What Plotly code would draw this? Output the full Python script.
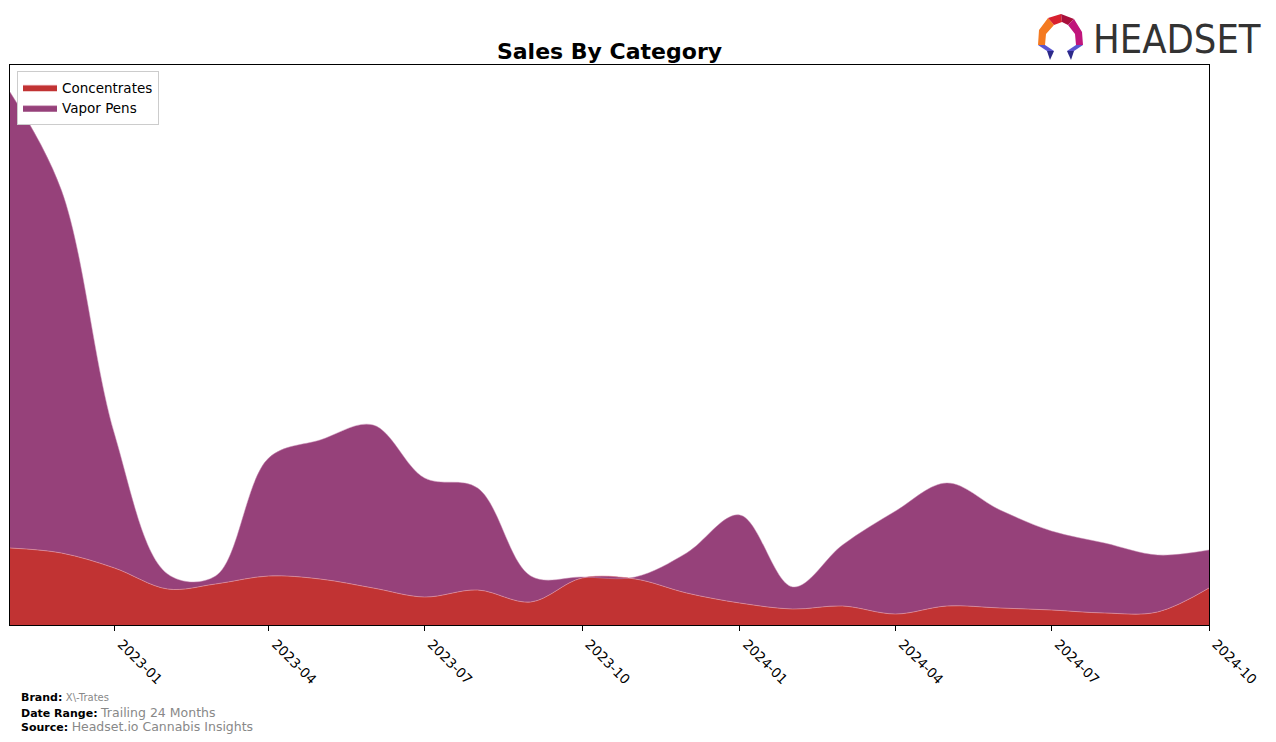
import base64
import plotly.graph_objects as go

# ---- data ----
months = ["2022-11-01", "2022-12-01", "2023-01-01", "2023-02-01", "2023-03-01", "2023-04-01",
          "2023-05-01", "2023-06-01", "2023-07-01", "2023-08-01", "2023-09-01", "2023-10-01",
          "2023-11-01", "2023-12-01", "2024-01-01", "2024-02-01", "2024-03-01", "2024-04-01",
          "2024-05-01", "2024-06-01", "2024-07-01", "2024-08-01", "2024-09-01", "2024-10-01"]
concentrates = [77, 72, 57, 36, 41, 49, 46, 37, 28, 35, 23, 47,
                46, 32, 22, 16, 19, 11, 19, 17, 15, 12, 13, 37]
vapor_pens = [456, 363, 134, 15, 8, 118, 139, 163, 119, 102, 26, 1,
              2, 40, 88, 22, 61, 103, 123, 98, 79, 70, 57, 38]
tick_vals = ["2023-01-01", "2023-04-01", "2023-07-01", "2023-10-01",
             "2024-01-01", "2024-04-01", "2024-07-01", "2024-10-01"]
tick_text = ["2023-01", "2023-04", "2023-07", "2023-10",
             "2024-01", "2024-04", "2024-07", "2024-10"]

OFF = 8  # page body margin
W, H = 1276 - OFF, 742 - OFF
L, R, T, B = 10 - OFF, 1209 - OFF, 65 - OFF, 625 - OFF

def px_x(p):
    return (p - OFF - L) / (R - L)

def px_y(p):
    return (B - (p - OFF)) / (B - T)

fig = go.Figure()
fig.add_trace(go.Scatter(x=months, y=concentrates, name="Concentrates", stackgroup="one",
                         mode="lines", line=dict(shape="spline", width=0.8, color="rgba(230,150,160,0.8)"),
                         fillcolor="#c13333"))
fig.add_trace(go.Scatter(x=months, y=vapor_pens, name="Vapor Pens", stackgroup="one",
                         mode="lines", line=dict(shape="spline", width=0.8, color="rgba(200,140,180,0.6)"),
                         fillcolor="#96417a"))

# logo icon as svg image (graphic only)
svg = """<svg xmlns='http://www.w3.org/2000/svg' width='50' height='48' viewBox='0 0 50 48'>
<polygon points='12,4 18,11 10,20 9,31 2,31 3,16' fill='#f47a20'/>
<polygon points='12,4 25,0 26,8 18,11' fill='#d8202f'/>
<polygon points='25,0 38,5 32,11 26,8' fill='#a8103c'/>
<polygon points='38,5 46,18 47,31 40,31 39,20 32,11' fill='#c0157c'/>
<polygon points='2,31 9,31 18,37 11,37' fill='#5a55d0'/>
<polygon points='11,37 18,37 14,46' fill='#2c2a8a'/>
<polygon points='47,31 40,31 31,37 38,37' fill='#5a55d0'/>
<polygon points='38,37 31,37 35,46' fill='#2c2a8a'/>
</svg>"""
src = "data:image/svg+xml;base64," + base64.b64encode(svg.encode()).decode()

fig.add_layout_image(dict(source=src, xref="paper", yref="paper",
                          x=px_x(1036), y=px_y(14), sizex=px_x(1086) - px_x(1036),
                          sizey=px_y(14) - px_y(62), xanchor="left", yanchor="top",
                          sizing="stretch", layer="above"))

anns = [
    dict(text="HEADSET", x=px_x(1091), y=px_y(39), xanchor="left", yanchor="middle",
         font=dict(family="DejaVu Sans Condensed, Liberation Sans Narrow, sans-serif", size=39.5, color="#333333")),
    dict(text="<b>Brand:</b> <span style='font-size:10px;color:#888888'>X\\-Trates</span>",
         x=px_x(19), y=px_y(697), xanchor="left", yanchor="middle",
         font=dict(family="DejaVu Sans", size=11, color="black")),
    dict(text="<b>Date Range:</b> <span style='font-size:12.5px;color:#888888'>Trailing 24 Months</span>",
         x=px_x(19), y=px_y(712), xanchor="left", yanchor="middle",
         font=dict(family="DejaVu Sans", size=11, color="black")),
    dict(text="<b>Source:</b> <span style='font-size:12.5px;color:#888888'>Headset.io Cannabis Insights</span>",
         x=px_x(19), y=px_y(726), xanchor="left", yanchor="middle",
         font=dict(family="DejaVu Sans", size=11, color="black")),
]
for a in anns:
    a.update(xref="paper", yref="paper", showarrow=False)
    fig.add_annotation(**a)

fig.update_layout(
    width=W, height=H,
    margin=dict(l=L, r=W - R, t=T, b=H - B, pad=0),
    paper_bgcolor="white", plot_bgcolor="white",
    title=dict(text="<b>Sales By Category</b>", x=0.5, xref="paper",
               y=1 - (51 - OFF) / H, yref="container", xanchor="center", yanchor="middle",
               font=dict(family="DejaVu Sans", size=22, color="black")),
    font=dict(family="DejaVu Sans", color="black"),
    legend=dict(x=px_x(17), y=px_y(71), xanchor="left", yanchor="top",
                bgcolor="white", bordercolor="#cccccc", borderwidth=1,
                itemwidth=34,
                font=dict(size=13.5, family="DejaVu Sans"), traceorder="normal"),
    showlegend=True,
)
fig.update_xaxes(type="date", range=[months[0], months[-1]], tickvals=tick_vals, ticktext=tick_text,
                 tickangle=45, ticks="outside", ticklen=5, tickcolor="black",
                 ticklabelshift=7,
                 tickfont=dict(size=13.5, family="DejaVu Sans", color="black"),
                 showline=True, linecolor="black", linewidth=1, mirror=True,
                 showgrid=False, zeroline=False)
fig.update_yaxes(range=[0, 560], showticklabels=False, ticks="", showline=True,
                 linecolor="black", linewidth=1, mirror=True, showgrid=False, zeroline=False)

fig.write_html("out.html")
